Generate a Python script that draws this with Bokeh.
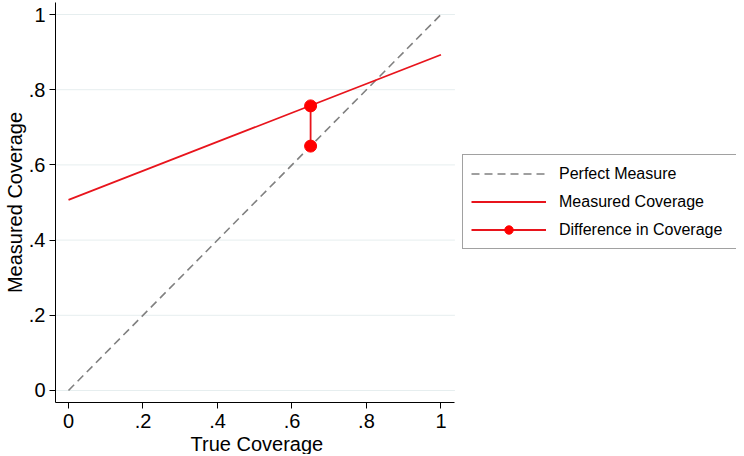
from bokeh.plotting import figure
from bokeh.models import Range1d, FixedTicker, Legend, LegendItem, Title
from bokeh.embed import file_html
from bokeh.resources import INLINE

# Data
perfect_x = [0.0, 1.0]
perfect_y = [0.0, 1.0]
measured_x = [0.0, 1.0]
measured_y = [0.507, 0.893]
diff_x = [0.65, 0.65]
diff_y = [0.65, 0.757]
tick_values = [0.0, 0.2, 0.4, 0.6, 0.8, 1.0]
tick_labels = ["0", ".2", ".4", ".6", ".8", "1"]

FONT = "Liberation Sans"
RED = "#e8141c"
DOT = "#ff0000"

# axis extent in data units (plot region of the reference)
X_LO, X_HI = -0.0349, 1.0375
Y_LO, Y_HI = -0.032, 1.032
# the frame is widened to the right so the legend can sit beside the plot region
X_FRAME_HI = 1.7935

p = figure(width=736, height=454, output_backend="svg", toolbar_location=None,
           x_range=Range1d(X_LO, X_FRAME_HI), y_range=Range1d(Y_LO, Y_HI),
           min_border_left=54, min_border_top=2, min_border_bottom=0, min_border_right=0)
p.outline_line_color = None
p.background_fill_color = "white"
p.border_fill_color = "white"

p.xgrid.grid_line_color = None
p.ygrid.grid_line_color = None
p.segment(x0=X_LO, x1=X_HI, y0=tick_values, y1=tick_values,
          line_color="#e6eeef", line_width=1, level="underlay")

for ax in (p.xaxis[0], p.yaxis[0]):
    ax.ticker = FixedTicker(ticks=tick_values)
    ax.major_label_overrides = dict(zip(tick_values, tick_labels))
    ax.minor_tick_line_color = None
    ax.major_tick_in = 0
    ax.major_tick_out = 6
    ax.axis_line_color = "black"
    ax.major_tick_line_color = "black"
    ax.major_label_text_font = FONT
    ax.major_label_text_font_size = "20px"
    ax.major_label_text_color = "black"
    ax.axis_label_text_font = FONT
    ax.axis_label_text_font_size = "20px"
    ax.axis_label_text_font_style = "normal"
    ax.axis_label_text_color = "black"

p.xaxis.bounds = (X_LO, X_HI)
p.yaxis.axis_label = "Measured Coverage"
p.yaxis.major_label_standoff = 4
p.xaxis.major_label_standoff = 5
p.yaxis.axis_label_standoff = 0

xtitle = Title(text="True Coverage", align="left", offset=135, standoff=0,
               text_font=FONT, text_font_size="20px", text_font_style="normal",
               text_color="black")
p.add_layout(xtitle, "below")

r_perf = p.line(perfect_x, perfect_y, line_color="#808080", line_width=1.6, line_dash="8 5")
r_meas = p.line(measured_x, measured_y, line_color=RED, line_width=1.8)
r_diff_line = p.line(diff_x, diff_y, line_color=RED, line_width=1.8)
r_diff_pts = p.scatter(diff_x, diff_y, size=12, fill_color=DOT, line_color=DOT)

legend = Legend(items=[
    LegendItem(label="Perfect Measure", renderers=[r_perf]),
    LegendItem(label="Measured Coverage", renderers=[r_meas]),
    LegendItem(label="Difference in Coverage", renderers=[r_diff_line, r_diff_pts]),
], location=(407, 153))
legend.margin = 0
legend.padding = 8
legend.spacing = 7
legend.glyph_width = 75
legend.glyph_height = 21
legend.label_height = 21
legend.label_width = 170
legend.label_standoff = 13
legend.label_text_font = FONT
legend.label_text_font_size = "16px"
legend.label_text_color = "black"
legend.border_line_color = "#444444"
legend.border_line_width = 1
legend.background_fill_color = "white"
legend.background_fill_alpha = 1
p.add_layout(legend)

open("out.html", "w").write(file_html(p, INLINE))
